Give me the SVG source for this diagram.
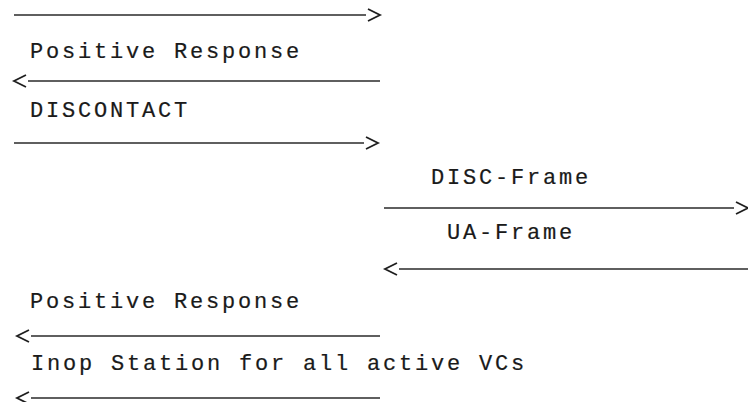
<svg xmlns="http://www.w3.org/2000/svg" width="748" height="402" viewBox="0 0 748 402">
  <defs>
    <!-- open typewriter-style chevron, set a little apart from the end of each message line -->
    <marker id="chev" markerUnits="userSpaceOnUse" markerWidth="15" markerHeight="14" refX="-1" refY="7" orient="auto-start-reverse" viewBox="0 0 15 14" overflow="visible">
      <path d="M1,1 L13,7 L1,13" fill="none" stroke="#1e1e1e" stroke-width="1.8"/>
    </marker>
    <style>
      /* labels on a 16px typewriter pitch */
      .lbl { font-family: "Liberation Mono", "DejaVu Sans Mono", monospace; font-size: 22px; letter-spacing: 2.8px; fill: #1a1a1a; stroke: #1a1a1a; stroke-width: 0.2; }
      .msg { fill: none; stroke: #2a2a2a; stroke-width: 1.4; }
      .fwd { marker-end: url(#chev); }
      .back { marker-start: url(#chev); }
    </style>
  </defs>
  <rect width="748" height="402" fill="#ffffff"/>

  <!-- message lines -->
  <g id="connectors">
    <line class="msg fwd" x1="14" y1="15" x2="366" y2="15"/>
    <line class="msg back" x1="28" y1="81" x2="380" y2="81"/>
    <line class="msg fwd" x1="14" y1="143" x2="364" y2="143"/>
    <line class="msg fwd" x1="384" y1="208" x2="734" y2="208"/>
    <line class="msg back" x1="399" y1="269" x2="748" y2="269"/>
    <line class="msg back" x1="31" y1="336" x2="380" y2="336"/>
    <line class="msg back" x1="31" y1="398" x2="380" y2="398"/>
  </g>

  <!-- message labels -->
  <g id="positive-response-1"><text class="lbl" x="30" y="58">Positive Response</text></g>
  <g id="discontact"><text class="lbl" x="30" y="117">DISCONTACT</text></g>
  <g id="disc-frame"><text class="lbl" x="431" y="184">DISC-Frame</text></g>
  <g id="ua-frame"><text class="lbl" x="447" y="239">UA-Frame</text></g>
  <g id="positive-response-2"><text class="lbl" x="30" y="308">Positive Response</text></g>
  <g id="inop-station"><text class="lbl" x="31" y="370">Inop Station for all active VCs</text></g>
</svg>
